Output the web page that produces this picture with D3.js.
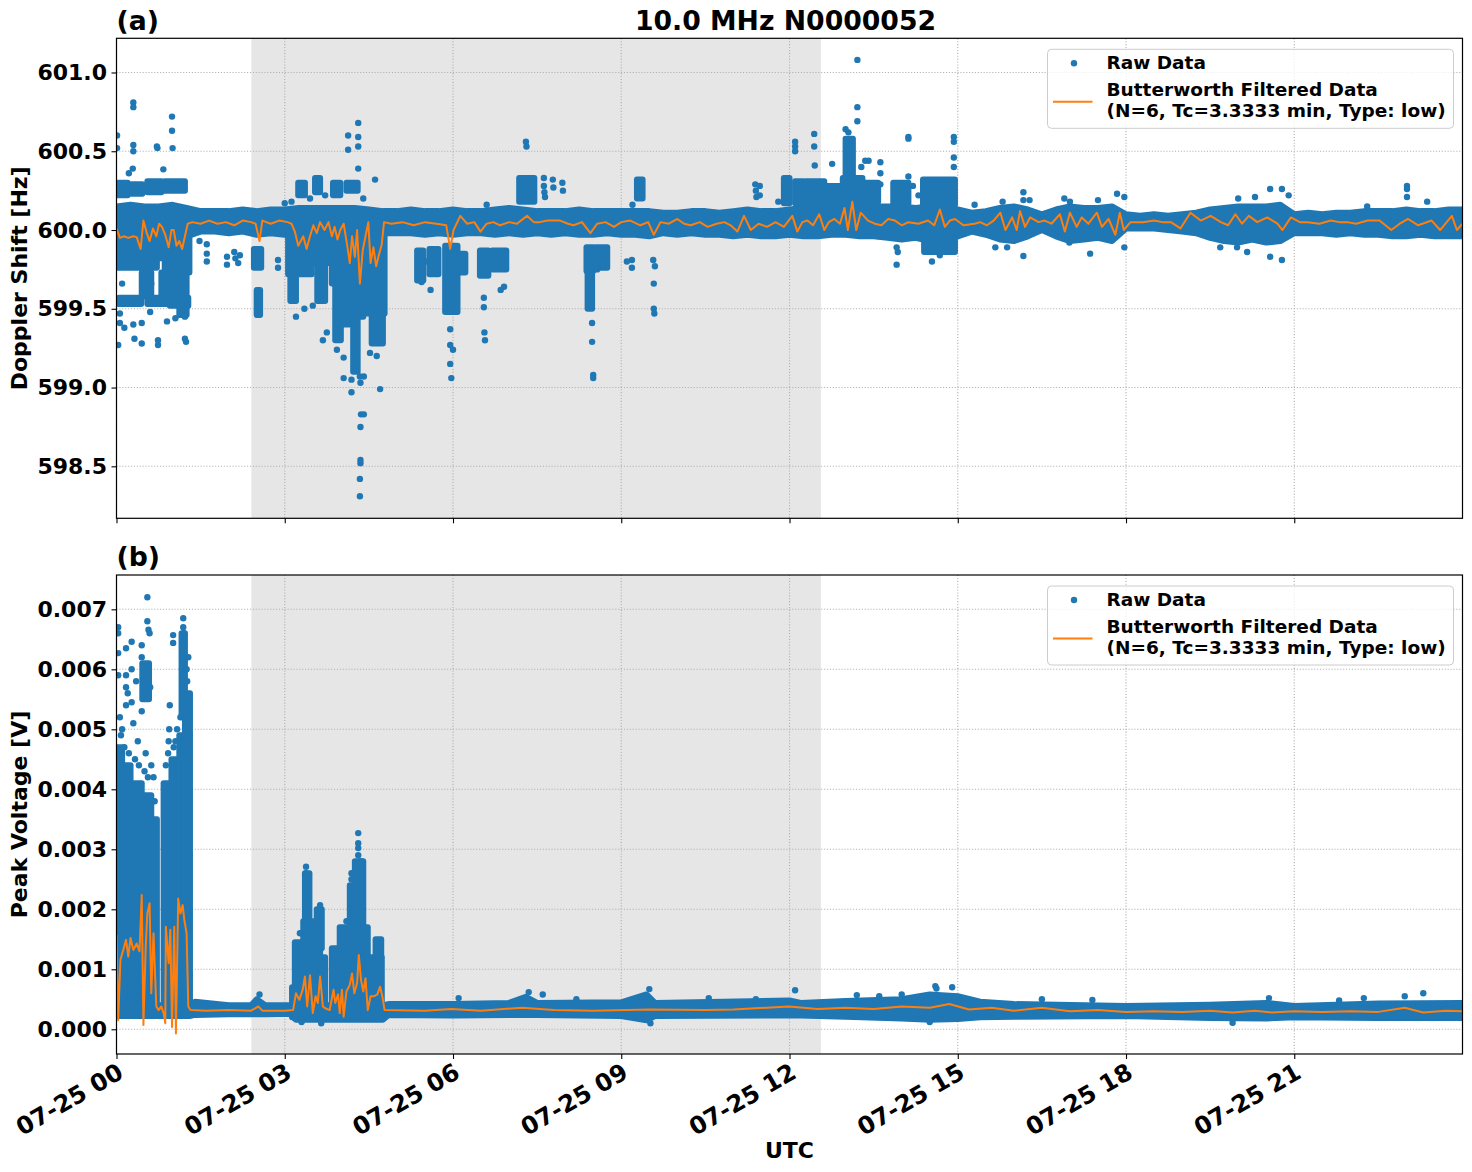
<!DOCTYPE html>
<html>
<head>
<meta charset="utf-8">
<script src="https://cdn.jsdelivr.net/npm/d3@7"></script>
<style>
body { margin: 0; background: #fff; }
text { font-family: "DejaVu Sans", sans-serif; font-weight: bold; }
</style>
</head>
<body>
<script>
// ---- data (time in hours UTC on 07-25) ----
var nightSpan = [2.405, 12.56];

// dense core of raw Doppler points: [t, lo, hi]
var dopCore = [
  [0,599.95,600.15],[0.25,599.95,600.16],[0.5,599.96,600.15],[0.75,599.96,600.15],[1,599.95,600.16],[1.25,599.96,600.14],
  [1.5,599.99,600.12],[1.75,599.99,600.12],[2,599.98,600.12],[2.25,599.99,600.13],[2.5,599.97,600.12],[2.75,599.98,600.13],
  [3,599.97,600.13],[3.25,599.96,600.14],[3.5,599.96,600.14],[3.75,599.97,600.14],[4,599.96,600.14],[4.25,599.96,600.14],
  [4.5,599.96,600.13],[4.75,599.98,600.12],[5,599.98,600.12],[5.25,599.98,600.13],[5.5,599.97,600.12],[5.75,599.98,600.12],
  [6,599.97,600.13],[6.25,599.98,600.12],[6.5,599.98,600.12],[6.75,599.97,600.13],[7,599.98,600.14],[7.25,599.97,600.13],
  [7.5,599.98,600.12],[7.75,599.97,600.12],[8,599.98,600.12],[8.25,599.97,600.13],[8.5,599.97,600.12],[8.75,599.98,600.12],
  [9,599.97,600.12],[9.25,599.97,600.12],[9.5,599.96,600.12],[9.75,599.98,600.11],[10,599.97,600.11],[10.25,599.98,600.12],
  [10.5,599.97,600.12],[10.75,599.97,600.11],[11,599.96,600.12],[11.25,599.97,600.13],[11.5,599.96,600.12],[11.75,599.96,600.12],
  [12,599.97,600.13],[12.25,599.96,600.14],[12.5,599.96,600.15],[12.75,599.97,600.16],[13,599.97,600.18],[13.25,599.96,600.17],
  [13.5,599.96,600.15],[13.75,599.95,600.15],[14,599.94,600.15],[14.25,599.95,600.14],[14.5,599.93,600.15],[14.75,599.93,600.16],
  [15,599.96,600.13],[15.25,599.99,600.11],[15.5,599.97,600.12],[15.75,599.94,600.14],[16,599.93,600.15],[16.25,599.96,600.13],
  [16.5,600.00,600.10],[16.75,599.96,600.13],[17,599.93,600.15],[17.25,599.94,600.14],[17.5,599.95,600.14],[17.75,599.93,600.15],
  [18,600.01,600.10],[18.25,600.01,600.09],[18.5,600.01,600.10],[18.75,600.00,600.09],[19,599.99,600.10],[19.25,599.98,600.11],
  [19.5,599.95,600.13],[19.75,599.93,600.14],[20,599.92,600.15],[20.25,599.94,600.15],[20.5,599.92,600.15],[20.75,599.93,600.16],
  [21,599.98,600.10],[21.25,599.98,600.11],[21.5,599.98,600.10],[21.75,599.97,600.11],[22,599.98,600.11],[22.25,599.97,600.12],
  [22.5,599.97,600.12],[22.75,599.96,600.12],[23,599.96,600.13],[23.25,599.97,600.12],[23.5,599.96,600.12],[23.75,599.96,600.13],
  [24,599.96,600.13]
];

// dense clusters off the core: [t0, t1, lo, hi]
var dopPatches = [
  [0,0.72,599.76,599.96],[0.72,0.86,599.82,599.96],[0.86,1.30,599.73,599.96],
  [0,0.20,600.22,600.30],[0.27,0.46,600.23,600.29],[0.55,0.80,600.24,600.31],[0.86,1.22,600.25,600.31],
  [0.04,0.44,599.53,599.57],[0.55,0.90,599.53,599.57],[0.95,1.28,599.52,599.57],[0.45,0.62,599.58,599.73],[0.80,1.05,599.58,599.73],
  [1.12,1.25,599.46,599.73],[2.45,2.58,599.76,599.88],[2.50,2.56,599.46,599.62],[3.06,3.48,599.72,599.97],[3.10,3.20,599.55,599.72],
  [3.48,3.84,599.79,599.97],[3.58,3.72,599.55,599.79],[3.84,4.20,599.66,599.97],[3.90,4.00,599.30,599.66],[4.05,4.15,599.40,599.66],
  [4.20,4.40,599.45,599.97],[4.22,4.30,599.10,599.45],[4.40,4.78,599.47,599.97],[4.55,4.75,599.28,599.47],[3.24,3.36,600.22,600.30],
  [3.54,3.63,600.24,600.33],[3.86,3.99,600.22,600.30],[4.10,4.30,600.25,600.30],
  [5.36,5.47,599.68,599.87],[5.58,5.74,599.72,599.88],[5.86,6.08,599.48,599.90],[6.12,6.22,599.73,599.85],
  [6.48,6.63,599.71,599.87],[6.70,6.95,599.75,599.87],[7.18,7.45,600.18,600.33],
  [8.38,8.50,599.74,599.89],[8.40,8.48,599.50,599.75],[8.55,8.75,599.76,599.89],
  [9.28,9.38,600.20,600.32],[11.90,12.00,600.17,600.33],[12.10,12.25,600.17,600.31],[12.30,12.62,600.17,600.31],[12.66,12.95,600.18,600.28],
  [12.95,13.30,600.17,600.33],[13.30,13.58,600.18,600.30],[13.00,13.13,600.33,600.58],[13.85,14.12,600.17,600.30],[14.38,14.95,600.16,600.32],
  [14.40,14.95,599.86,599.94]
];

// scattered single raw points: [t, v]
var dopPoints = [
  [0.01,600.60],[0.01,600.52],[0.30,600.81],[0.30,600.78],[0.30,600.54],[0.30,600.50],[0.29,600.39],[0.73,600.52],[0.72,600.53],
  [0.99,600.72],[0.99,600.63],[1.00,600.52],[0.835,600.385],[0.22,600.36],[0.03,599.27],[0.32,599.31],[0.45,599.28],[0.74,599.30],
  [0.74,599.27],[1.22,599.31],[1.24,599.29],[0.06,599.41],[0.30,599.40],[0.45,599.41],[0.60,599.48],[0.06,599.47],[1.22,599.45],
  [0.14,599.38],[0.90,599.42],[1.05,599.44],[0.10,599.66],[0.62,599.66],[1.08,599.68],
  [1.61,599.91],[1.61,599.85],[1.61,599.80],[1.97,599.83],[1.97,599.78],[2.10,599.86],[2.12,599.82],[2.17,599.79],[2.20,599.84],
  [1.48,599.93],[2.88,599.81],[2.88,599.76],
  [4.13,600.60],[4.13,600.51],[4.31,600.68],[4.31,600.59],[4.31,600.53],[4.31,600.39],[4.61,600.32],[3.12,600.18],[3.45,600.20],
  [3.72,600.22],[4.40,600.20],[3.00,600.17],
  [4.34,598.31],[4.34,598.42],[4.35,598.54],[4.35,598.52],[4.35,598.75],[4.36,598.83],[4.41,598.83],[4.35,599.03],[4.34,599.07],
  [4.41,599.07],[4.19,599.05],[4.19,598.97],[4.05,599.06],[4.05,599.19],[4.70,598.99],[4.64,599.20],[3.68,599.30],[3.75,599.35],
  [3.93,599.24],[4.52,599.22],[3.20,599.45],[3.35,599.50],[3.50,599.52],
  [5.44,599.67],[5.95,599.37],[5.95,599.27],[5.95,599.15],[5.97,599.06],[6.00,599.24],[6.55,599.57],[6.55,599.51],[6.56,599.35],
  [6.57,599.30],[6.91,599.64],[6.60,600.16],[5.60,599.62],[6.85,599.62],[5.52,599.80],[6.66,599.80],
  [7.30,600.56],[7.31,600.53],[7.62,600.33],[7.62,600.28],[7.63,600.24],[7.78,600.32],[7.79,600.27],[7.95,600.30],[7.96,600.25],[7.64,600.21],
  [8.48,599.41],[8.48,599.29],[8.50,599.08],[8.50,599.06],[8.57,599.75],[9.19,599.81],[9.19,599.76],[9.20,600.16],[9.57,599.81],
  [9.60,599.77],[9.58,599.66],[9.58,599.50],[9.59,599.47],[9.10,599.80],
  [11.39,600.29],[11.40,600.25],[11.41,600.21],[11.47,600.28],[11.47,600.22],[12.10,600.56],[12.10,600.53],[12.10,600.50],[11.80,600.18],
  [12.44,600.61],[12.44,600.53],[12.45,600.41],[12.76,600.42],[13.00,600.64],[13.05,600.62],[13.21,600.78],[13.21,600.69],[13.21,601.08],
  [13.28,600.40],[13.35,600.44],[13.41,600.44],[13.62,600.43],[13.62,600.36],[13.62,600.29],[14.12,600.59],[14.12,600.58],[14.12,600.34],
  [13.91,599.89],[13.93,599.86],[13.91,599.78],[14.93,600.59],[14.93,600.56],[14.93,600.46],[14.93,600.40],[14.54,599.80],[14.68,599.84],
  [14.20,600.28],[14.30,600.22],
  [16.17,600.24],[16.17,600.19],[16.28,600.19],[16.17,599.835],[15.67,599.89],[15.88,599.89],[17.00,600.18],[16.99,599.92],[17.36,599.85],
  [17.84,600.23],[17.97,600.21],[17.97,599.89],[20.57,600.26],[20.78,600.26],[20.78,599.81],[20.57,599.83],[20.30,600.21],[19.68,599.89],
  [19.98,599.89],[20.16,599.86],[23.01,600.28],[23.01,600.26],[23.01,600.21],[22.30,600.15],[23.37,600.18],[15.80,600.18],[16.90,600.20],
  [17.50,600.19],[15.30,600.16],[20.90,600.22],[20.00,600.20]
];

// Butterworth filtered Doppler: [t, v]
var dopFilt = [
  [0.00,600.01],[0.06,599.95],[0.13,599.96],[0.21,599.95],[0.30,599.96],[0.36,599.955],[0.43,599.88],[0.48,600.06],[0.54,599.98],
  [0.59,599.93],[0.65,600.01],[0.71,599.96],[0.76,600.04],[0.81,600.02],[0.87,599.97],[0.93,599.89],[0.98,600.00],[1.02,600.00],
  [1.07,599.90],[1.12,599.93],[1.17,599.88],[1.22,599.96],[1.27,600.04],[1.35,600.05],[1.5,600.04],[1.65,600.06],[1.8,600.04],
  [1.95,600.05],[2.1,600.03],[2.25,600.06],[2.4,600.05],[2.48,600.04],[2.55,599.93],[2.6,600.06],[2.75,600.04],[2.9,600.06],
  [3.05,600.05],[3.12,600.04],[3.18,599.99],[3.24,599.90],[3.33,599.96],[3.39,599.88],[3.45,599.96],[3.51,600.03],[3.57,599.98],
  [3.63,600.05],[3.71,600.00],[3.78,600.05],[3.84,599.96],[3.89,600.02],[3.94,599.94],[3.99,600.00],[4.05,600.04],[4.11,599.91],
  [4.16,599.79],[4.20,599.96],[4.25,599.83],[4.29,600.00],[4.34,599.66],[4.39,599.87],[4.44,599.96],[4.49,600.05],[4.53,599.79],
  [4.58,599.89],[4.63,599.77],[4.67,599.83],[4.73,599.91],[4.77,600.05],[4.9,600.04],[5.1,600.05],[5.3,600.03],[5.5,600.05],
  [5.7,600.04],[5.88,600.03],[5.95,599.88],[6.01,600.00],[6.13,600.09],[6.25,600.04],[6.38,600.05],[6.49,599.99],[6.6,600.04],
  [6.72,600.05],[6.84,600.03],[7.0,600.05],[7.14,600.04],[7.32,600.09],[7.44,600.05],[7.55,600.05],[7.68,600.06],[7.91,600.06],
  [8.05,600.04],[8.15,600.03],[8.3,600.05],[8.45,599.98],[8.57,600.04],[8.72,600.05],[8.87,600.02],[9.0,600.05],[9.16,600.06],
  [9.34,600.03],[9.48,600.05],[9.58,599.97],[9.7,600.05],[9.85,600.04],[10.0,600.07],[10.12,600.04],[10.24,600.03],[10.4,600.05],
  [10.54,600.02],[10.7,600.04],[10.84,600.05],[10.95,600.03],[11.07,599.99],[11.19,600.09],[11.31,600.00],[11.45,600.04],[11.6,600.02],
  [11.75,600.05],[11.9,600.02],[12.05,600.09],[12.14,599.99],[12.23,600.05],[12.32,600.06],[12.42,600.03],[12.53,600.10],[12.62,600.00],
  [12.7,600.05],[12.8,600.07],[12.9,600.04],[12.98,600.14],[13.04,600.00],[13.12,600.18],[13.19,600.00],[13.27,600.11],[13.4,600.06],
  [13.52,600.04],[13.64,600.03],[13.76,600.07],[13.88,600.06],[14.0,600.03],[14.12,600.05],[14.3,600.04],[14.47,600.06],[14.58,600.03],
  [14.68,600.13],[14.77,600.02],[14.86,600.06],[14.95,600.07],[15.1,600.03],[15.3,600.04],[15.4,600.05],[15.52,600.03],[15.64,600.06],
  [15.76,600.11],[15.85,600.00],[15.97,600.08],[16.05,600.00],[16.11,600.12],[16.2,600.02],[16.29,600.08],[16.44,600.05],[16.55,600.06],
  [16.67,600.04],[16.82,600.10],[16.91,599.99],[17.0,600.11],[17.12,600.02],[17.21,600.08],[17.33,600.04],[17.48,600.11],[17.57,600.02],
  [17.69,600.07],[17.81,599.97],[17.89,600.11],[17.96,600.00],[18.08,600.05],[18.3,600.05],[18.5,600.06],[18.65,600.05],[18.8,600.05],
  [18.97,600.01],[19.15,600.11],[19.33,600.06],[19.51,600.09],[19.69,600.05],[19.82,600.03],[19.95,600.10],[20.07,600.04],[20.19,600.09],
  [20.34,600.05],[20.52,600.08],[20.7,600.04],[20.79,600.00],[20.94,600.08],[21.1,600.05],[21.24,600.05],[21.45,600.04],[21.65,600.06],
  [21.8,600.05],[21.95,600.05],[22.1,600.04],[22.31,600.06],[22.52,600.06],[22.73,600.00],[22.88,600.04],[23.03,600.07],[23.21,600.03],
  [23.45,600.06],[23.6,600.00],[23.81,600.09],[23.9,600.00],[24.0,600.04]
];

// dense core of raw peak voltage: [t, lo, hi]
var pvCore = [
  [0,0.00022,0.00040],[1.3,0.00022,0.00040],[1.4,0.00024,0.00046],[2.0,0.00025,0.00040],[2.4,0.00025,0.00040],[2.5,0.00025,0.00050],
  [2.65,0.00025,0.00040],[3.1,0.00026,0.00040],[3.2,0.00016,0.00040],[4.75,0.00016,0.00040],[4.85,0.00024,0.00042],[6,0.00023,0.00042],
  [7,0.00024,0.00044],[7.3,0.00024,0.00054],[7.5,0.00024,0.00044],[9,0.00022,0.00045],[9.45,0.00015,0.00058],[9.6,0.00022,0.00044],
  [12,0.00023,0.00048],[12.2,0.00023,0.00044],[13,0.00021,0.00047],[14,0.00018,0.00050],[14.5,0.00016,0.00058],[15,0.00017,0.00055],
  [15.4,0.00020,0.00046],[16,0.00021,0.00042],[18,0.00022,0.00039],[19.5,0.00019,0.00041],[20.5,0.00018,0.00044],[21,0.00020,0.00039],
  [22.5,0.00019,0.00043],[24,0.00019,0.00044]
];

var pvPatches = [
  [0,0.10,0.00025,0.0047],[0.10,0.25,0.00025,0.0044],[0.25,0.45,0.00025,0.0041],[0.45,0.62,0.00025,0.0039],[0.62,0.72,0.00025,0.0035],
  [0.84,0.98,0.00025,0.0041],[0.98,1.12,0.00025,0.0045],[1.12,1.22,0.00025,0.0049],[1.22,1.31,0.00025,0.0056],[0.46,0.58,0.0055,0.0061],
  [1.16,1.22,0.0052,0.0066],
  [3.13,3.18,0.0002,0.0007],[3.18,3.33,0.00018,0.00145],[3.33,3.51,0.00018,0.0018],[3.36,3.44,0.0018,0.0026],[3.51,3.63,0.00018,0.00135],
  [3.57,3.66,0.00135,0.0020],[3.63,3.72,0.00018,0.0012],[3.84,3.98,0.00018,0.00135],[3.98,4.16,0.00018,0.0017],[4.16,4.28,0.00018,0.0024],
  [4.25,4.40,0.00018,0.0028],[4.40,4.48,0.00018,0.0017],[4.48,4.73,0.00018,0.0012],[4.62,4.72,0.0012,0.0015]
];

var pvPoints = [
  [0.55,0.0072],[0.55,0.0068],[0.57,0.00666],[0.59,0.0066],[0.03,0.0067],[0.03,0.0066],[0.27,0.00646],[0.17,0.00635],[0.03,0.00627],
  [0.45,0.0064],[0.45,0.0062],[0.17,0.0059],[0.17,0.0057],[0.27,0.0060],[0.03,0.0059],[0.20,0.0056],[0.27,0.00545],[0.17,0.0054],
  [0.45,0.0053],[0.30,0.0051],[1.19,0.00685],[1.19,0.0067],[1.20,0.0066],[1.01,0.00657],[1.01,0.00644],[0.95,0.0054],[0.94,0.0050],
  [0.93,0.0048],[0.06,0.0052],[0.10,0.0050],[0.38,0.0048],[0.52,0.0046],[0.62,0.0044],[0.66,0.0042],[1.05,0.0048],[1.28,0.0062],
  [1.25,0.0060],[0.35,0.0058],[0.60,0.0057],[0.08,0.0049],[0.14,0.0047],[0.22,0.0046],[0.33,0.0045],[0.40,0.0044],[0.50,0.0043],
  [0.56,0.0042],[0.68,0.0038],[0.88,0.0044],[0.92,0.0046],[1.02,0.0047],[1.08,0.0050],[1.14,0.0052],[1.26,0.0058],
  [3.38,0.00271],[3.38,0.0026],[3.40,0.00227],[3.63,0.00207],[3.63,0.0020],[4.31,0.00327],[4.31,0.0031],[4.31,0.00302],[4.19,0.0026],
  [4.19,0.0025],[4.36,0.0028],[4.31,0.0029],[3.27,0.0016],[4.10,0.0018],
  [2.55,0.00058],[7.35,0.00062],[7.60,0.00058],[9.50,0.00067],[9.52,0.0001],[12.10,0.00065],[13.20,0.00057],[14.00,0.00058],
  [14.60,0.00072],[14.62,0.00068],[14.90,0.00070],[23.30,0.0006],[6.10,0.00052],[10.56,0.00052],[20.55,0.00052],[22.24,0.00052],
  [19.90,0.00011],[14.50,0.00012],[3.65,0.0001],[3.30,0.00012],[8.20,0.00050],[11.40,0.00050],[13.60,0.00055],[16.50,0.00050],
  [17.40,0.00049],[21.80,0.00048],[22.97,0.00055]
];

var pvFilt = [
  [0.00,0.00157],[0.03,0.00015],[0.07,0.00116],[0.12,0.00132],[0.17,0.00149],[0.21,0.00121],[0.25,0.00152],[0.30,0.00132],[0.36,0.00143],
  [0.41,0.00130],[0.45,0.00224],[0.48,0.00007],[0.52,0.00135],[0.55,0.00193],[0.59,0.00210],[0.62,0.00060],[0.66,0.00160],[0.71,0.00038],
  [0.75,0.00032],[0.80,0.00038],[0.84,0.00027],[0.87,0.00010],[0.88,0.00171],[0.93,0.00110],[0.96,0.00166],[0.99,0.00004],[1.03,0.00171],
  [1.06,-0.00007],[1.10,0.00218],[1.14,0.00193],[1.18,0.00207],[1.21,0.00182],[1.25,0.00160],[1.28,0.00038],[1.32,0.00032],[1.6,0.00031],
  [2.0,0.00032],[2.4,0.00031],[2.53,0.00038],[2.6,0.00031],[3.0,0.00031],[3.15,0.00032],[3.20,0.00060],[3.26,0.00049],[3.32,0.00066],
  [3.36,0.00088],[3.40,0.00038],[3.45,0.00090],[3.50,0.00027],[3.55,0.00055],[3.59,0.00044],[3.63,0.00088],[3.68,0.00038],[3.72,0.00035],
  [3.80,0.00032],[3.87,0.00066],[3.90,0.00044],[3.95,0.00058],[3.98,0.00027],[4.02,0.00066],[4.05,0.00021],[4.10,0.00063],[4.16,0.00074],
  [4.20,0.00093],[4.24,0.00060],[4.29,0.00077],[4.32,0.00124],[4.36,0.00082],[4.40,0.00063],[4.44,0.00085],[4.48,0.00032],[4.53,0.00055],
  [4.59,0.00055],[4.65,0.00058],[4.70,0.00071],[4.74,0.00055],[4.78,0.00032],[5.5,0.00031],[5.97,0.00034],[6.5,0.00031],[7.23,0.00036],
  [7.8,0.00032],[8.5,0.00031],[9.5,0.00033],[10.5,0.00032],[11.0,0.00033],[11.99,0.00038],[12.5,0.00034],[13.0,0.00036],[13.5,0.00034],
  [14.0,0.00038],[14.5,0.00036],[14.85,0.00042],[15.2,0.00033],[15.6,0.00036],[16.0,0.00031],[16.5,0.00036],[17.0,0.00030],[17.5,0.00032],
  [18.0,0.00029],[18.5,0.00030],[19.0,0.00029],[19.5,0.00031],[19.9,0.00028],[20.3,0.00031],[20.6,0.00028],[21.0,0.00030],[21.5,0.00029],
  [22.0,0.00030],[22.5,0.00029],[22.97,0.00036],[23.3,0.00028],[23.7,0.00031],[24.0,0.00030]
];

var dopTicks = [598.5, 599.0, 599.5, 600.0, 600.5, 601.0];
var pvTicks = [0, 0.001, 0.002, 0.003, 0.004, 0.005, 0.006, 0.007];

// ---- layout ----
var width = 1472, height = 1172;
var left = 116.5, right = 1462.5;
var blue = "#1f77b4", orange = "#ff7f0e";

var svg = d3.select("body").append("svg")
    .attr("width", width)
    .attr("height", height);

var day0 = Date.UTC(2023, 6, 25);
function toDate(h) { return new Date(day0 + h * 3600e3); }

var x = d3.scaleUtc()
    .domain([toDate(0), toDate(23.9997)])
    .range([left, right]);

var hourTicks = d3.utcHour.every(3);

function drawPanel(opts) {
    var top = opts.top, bottom = opts.bottom;
    var y = d3.scaleLinear().domain(opts.domain).range([bottom, top]);
    var g = svg.append("g");

    var clipId = "clip" + opts.id;
    svg.append("clipPath").attr("id", clipId)
        .append("rect")
        .attr("x", left).attr("y", top)
        .attr("width", right - left).attr("height", bottom - top);

    // night shading
    g.append("rect")
        .attr("x", x(toDate(nightSpan[0])))
        .attr("y", top)
        .attr("width", x(toDate(nightSpan[1])) - x(toDate(nightSpan[0])))
        .attr("height", bottom - top)
        .attr("fill", "#e6e6e6");

    // grid
    var grid = g.append("g").attr("stroke", "#b0b0b0").attr("stroke-width", 1.1)
        .attr("stroke-dasharray", "1.1,1.8");
    grid.selectAll(".gx").data(x.ticks(hourTicks)).enter().append("line")
        .attr("x1", function(d) { return x(d); }).attr("x2", function(d) { return x(d); })
        .attr("y1", top).attr("y2", bottom);
    grid.selectAll(".gy").data(opts.ticks).enter().append("line")
        .attr("x1", left).attr("x2", right)
        .attr("y1", function(d) { return y(d); }).attr("y2", function(d) { return y(d); });

    var data = g.append("g").attr("clip-path", "url(#" + clipId + ")");

    // dense core as area, stroked to the dot radius
    var area = d3.area()
        .x(function(d) { return x(toDate(d[0])); })
        .y0(function(d) { return y(d[1]); })
        .y1(function(d) { return y(d[2]); });
    data.append("path")
        .datum(opts.core)
        .attr("d", area)
        .attr("fill", blue)
        .attr("stroke", blue)
        .attr("stroke-width", 6)
        .attr("stroke-linejoin", "round");

    data.selectAll(".patch").data(opts.patches).enter().append("rect")
        .attr("x", function(d) { return x(toDate(d[0])) - 3; })
        .attr("y", function(d) { return y(d[3]) - 3; })
        .attr("width", function(d) { return x(toDate(d[1])) - x(toDate(d[0])) + 6; })
        .attr("height", function(d) { return y(d[2]) - y(d[3]) + 6; })
        .attr("rx", 3)
        .attr("fill", blue);

    data.selectAll(".pt").data(opts.points).enter().append("circle")
        .attr("cx", function(d) { return x(toDate(d[0])); })
        .attr("cy", function(d) { return y(d[1]); })
        .attr("r", 3.2)
        .attr("fill", blue);

    var line = d3.line()
        .x(function(d) { return x(toDate(d[0])); })
        .y(function(d) { return y(d[1]); });
    data.append("path")
        .datum(opts.filt)
        .attr("d", line)
        .attr("fill", "none")
        .attr("stroke", orange)
        .attr("stroke-width", 2)
        .attr("stroke-linejoin", "round");

    // axes
    var yAxis = d3.axisLeft(y).tickValues(opts.ticks).tickFormat(d3.format(opts.fmt))
        .tickSize(5).tickPadding(4.5);
    var ya = g.append("g").attr("transform", "translate(" + left + ",0)").call(yAxis);
    ya.select(".domain").remove();
    ya.selectAll(".tick line").attr("stroke", "#000").attr("stroke-width", 1.1);
    ya.selectAll(".tick text").attr("font-size", "22px").attr("font-weight", "bold")
        .attr("font-family", "DejaVu Sans").attr("fill", "#000");

    var xAxis = d3.axisBottom(x).ticks(hourTicks).tickFormat("").tickSize(5);
    var xa = g.append("g").attr("transform", "translate(0," + bottom + ")").call(xAxis);
    xa.select(".domain").remove();
    xa.selectAll(".tick line").attr("stroke", "#000").attr("stroke-width", 1.1);

    if (opts.labels) {
        var fmt = d3.utcFormat("%m-%d %H");
        xa.selectAll(".tick").append("text")
            .attr("text-anchor", "end")
            .attr("fill", "#000")
            .attr("font-size", "24px")
            .attr("transform", "translate(8,23) rotate(-30)")
            .text(function(d) { return fmt(d); });
    }

    // frame
    g.append("rect").attr("x", left).attr("y", top)
        .attr("width", right - left).attr("height", bottom - top)
        .attr("fill", "none").attr("stroke", "#000").attr("stroke-width", 1.2);

    // y label
    g.append("text")
        .attr("transform", "translate(26.5," + ((top + bottom) / 2) + ") rotate(-90)")
        .attr("text-anchor", "middle")
        .attr("font-size", "22px")
        .text(opts.ylabel);

    // panel tag
    g.append("text").attr("x", left).attr("y", top - 8.8)
        .attr("font-size", "26.7px").text(opts.tag);

    // legend
    var lg = g.append("g").attr("transform", "translate(1047.5," + (top + 11) + ")");
    lg.append("rect").attr("width", 406).attr("height", 79).attr("rx", 4)
        .attr("fill", "#fff").attr("fill-opacity", 0.8)
        .attr("stroke", "#cccccc").attr("stroke-width", 1);
    lg.append("circle").attr("cx", 26.5).attr("cy", 14).attr("r", 3.2).attr("fill", blue);
    lg.append("line").attr("x1", 5.5).attr("x2", 45).attr("y1", 52.5).attr("y2", 52.5)
        .attr("stroke", orange).attr("stroke-width", 2);
    lg.append("text").attr("x", 59).attr("y", 20).attr("font-size", "18.5px").text("Raw Data");
    lg.append("text").attr("x", 59).attr("y", 47).attr("font-size", "18.5px").text("Butterworth Filtered Data");
    lg.append("text").attr("x", 59).attr("y", 67.5).attr("font-size", "18.5px").text("(N=6, Tc=3.3333 min, Type: low)");
}

drawPanel({
    id: "a", top: 38.3, bottom: 518.3, domain: [598.170, 601.217],
    core: dopCore, patches: dopPatches, points: dopPoints, filt: dopFilt,
    ticks: dopTicks, fmt: ".1f", ylabel: "Doppler Shift [Hz]", tag: "(a)", labels: false
});

drawPanel({
    id: "b", top: 575, bottom: 1054, domain: [-0.000412, 0.007572],
    core: pvCore, patches: pvPatches, points: pvPoints, filt: pvFilt,
    ticks: pvTicks, fmt: ".3f", ylabel: "Peak Voltage [V]", tag: "(b)", labels: true
});

// title and x label
svg.append("text")
    .attr("x", (left + right) / 2 - 4).attr("y", 29.5)
    .attr("text-anchor", "middle")
    .attr("font-size", "26.7px")
    .text("10.0 MHz N0000052");

svg.append("text")
    .attr("x", (left + right) / 2).attr("y", 1158)
    .attr("text-anchor", "middle")
    .attr("font-size", "22px")
    .text("UTC");
</script>
</body>
</html>
